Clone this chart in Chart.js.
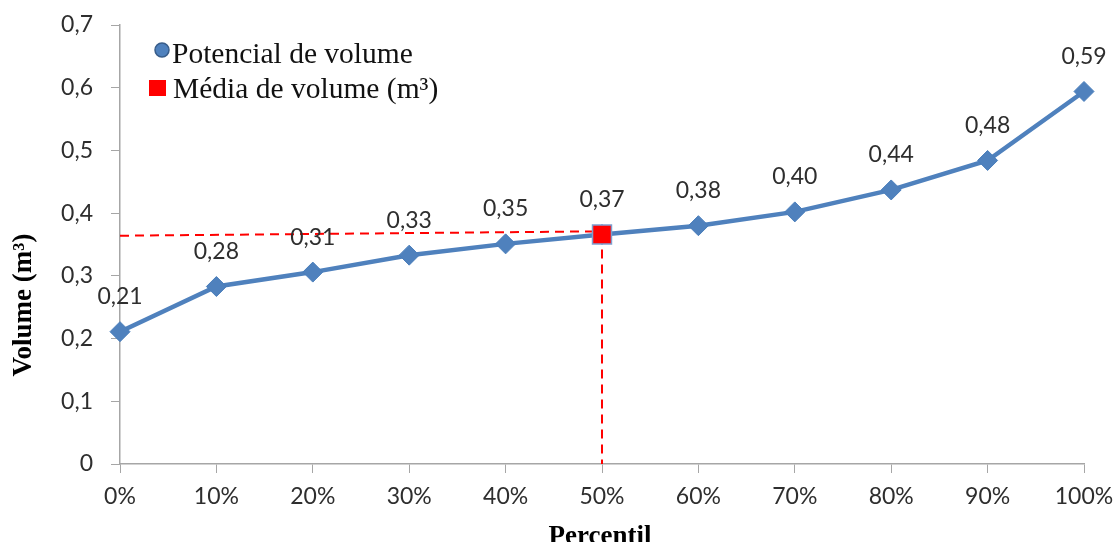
<!DOCTYPE html>
<html>
<head>
<meta charset="utf-8">
<script src="https://cdn.jsdelivr.net/npm/chart.js@4/dist/chart.umd.min.js"></script>
<style>
  body { margin: 0; background: #fff; }
  #wrap { width: 1118px; height: 542px; position: relative; }
</style>
</head>
<body>
<div id="wrap"><canvas id="chart"></canvas></div>
<script>
// percentiles on the x axis
var percentis = ['0%', '10%', '20%', '30%', '40%', '50%', '60%', '70%', '80%', '90%', '100%'];
// volume potential (m³) per percentile
var potencialVolume = [0.211, 0.283, 0.306, 0.333, 0.351, 0.366, 0.380, 0.402, 0.437, 0.484, 0.594];
// mean volume marker and its guide lines
var mediaPercentil = '50%';
var mediaVolume = 0.366;
var guiaHorizontal = [0.364, 0.371]; // y at 0% and at 50%
// y axis
var yMin = 0, yMax = 0.7, yStep = 0.1;

var tickFont = { family: 'Lato', size: 23 };
var axisColor = '#a6a6a6';
var textColor = '#2e2e2e';

function virgula(v, d) {
  return v.toFixed(d).replace('.', ',');
}

// data labels, axis titles and legend
var extras = {
  id: 'extras',
  afterDatasetsDraw: function (chart) {
    var ctx = chart.ctx;
    var meta = chart.getDatasetMeta(0);
    ctx.save();
    ctx.font = '23px Lato';
    ctx.fillStyle = textColor;
    ctx.textAlign = 'center';
    ctx.textBaseline = 'middle';
    meta.data.forEach(function (pt, i) {
      ctx.fillText(virgula(potencialVolume[i], 2), pt.x, pt.y - 35);
    });
    ctx.restore();
  },
  afterDraw: function (chart) {
    var ctx = chart.ctx;
    ctx.save();
    ctx.fillStyle = '#000';
    // y title
    ctx.font = 'bold 27px "Liberation Serif"';
    ctx.textAlign = 'center';
    ctx.textBaseline = 'middle';
    ctx.translate(24, 305);
    ctx.rotate(-Math.PI / 2);
    ctx.fillText('Volume (m³)', 0, 0);
    ctx.restore();

    ctx.save();
    ctx.fillStyle = '#000';
    ctx.font = 'bold 27px "Liberation Serif"';
    ctx.textAlign = 'center';
    ctx.textBaseline = 'alphabetic';
    ctx.fillText('Percentil', 600, 544);

    // legend
    ctx.font = '29.5px "Liberation Serif"';
    ctx.textAlign = 'left';
    ctx.beginPath();
    ctx.arc(162, 50, 7, 0, Math.PI * 2);
    ctx.fillStyle = '#4F81BD';
    ctx.fill();
    ctx.lineWidth = 1.5;
    ctx.strokeStyle = '#385D8A';
    ctx.stroke();
    ctx.fillStyle = '#111';
    ctx.fillText('Potencial de volume', 172, 63);

    ctx.fillStyle = '#FF0000';
    ctx.fillRect(149, 80, 17, 16);
    ctx.fillStyle = '#111';
    ctx.fillText('Média de volume (m³)', 173, 98);
    ctx.restore();
  }
};

new Chart(document.getElementById('chart'), {
  type: 'line',
  data: {
    labels: percentis,
    datasets: [
      {
        label: 'Potencial de volume',
        data: potencialVolume,
        borderColor: '#4F81BD',
        borderWidth: 4.5,
        pointStyle: 'rectRot',
        pointRadius: 10,
        pointHoverRadius: 10,
        pointBackgroundColor: '#4F81BD',
        pointBorderColor: '#4A7EBB',
        pointBorderWidth: 1,
        tension: 0,
        order: 1
      },
      {
        label: 'guia horizontal',
        data: [{ x: percentis[0], y: guiaHorizontal[0] }, { x: mediaPercentil, y: guiaHorizontal[1] }],
        borderColor: '#FF0000',
        borderWidth: 2,
        borderDash: [9, 6],
        pointRadius: 0,
        order: 2
      },
      {
        label: 'guia vertical',
        data: [{ x: mediaPercentil, y: mediaVolume }, { x: mediaPercentil, y: yMin }],
        borderColor: '#FF0000',
        borderWidth: 2,
        borderDash: [9, 6],
        pointRadius: 0,
        order: 2
      },
      {
        label: 'Média de volume (m³)',
        data: [{ x: mediaPercentil, y: mediaVolume }],
        showLine: false,
        pointStyle: 'rect',
        pointRadius: 13.4,
        pointHoverRadius: 13.4,
        pointBackgroundColor: '#FF0000',
        pointBorderColor: '#7F9FCF',
        pointBorderWidth: 1.5,
        order: 0
      }
    ]
  },
  options: {
    responsive: true,
    maintainAspectRatio: false,
    animation: false,
    layout: { padding: { top: 25, right: 34, left: 0, bottom: 0 } },
    plugins: {
      legend: { display: false },
      tooltip: { enabled: false }
    },
    scales: {
      x: {
        type: 'category',
        offset: false,
        grid: { drawOnChartArea: false, drawTicks: true, tickLength: 9, color: axisColor, offset: false },
        border: { color: axisColor, width: 1.5 },
        ticks: { font: tickFont, color: textColor, padding: 10, maxRotation: 0, autoSkip: false },
        afterFit: function (s) { s.height = 78; s.paddingLeft = 0; s.paddingRight = 0; }
      },
      y: {
        min: yMin,
        max: yMax,
        grid: { drawOnChartArea: false, drawTicks: true, tickLength: 9, color: axisColor },
        border: { color: axisColor, width: 1.5 },
        ticks: {
          stepSize: yStep,
          font: tickFont,
          color: textColor,
          padding: 18,
          callback: function (v) { return v === 0 ? '0' : virgula(v, 1); }
        },
        afterFit: function (s) { s.width = 120; s.paddingTop = 0; s.paddingBottom = 0; }
      }
    }
  },
  plugins: [extras]
});
</script>
</body>
</html>
